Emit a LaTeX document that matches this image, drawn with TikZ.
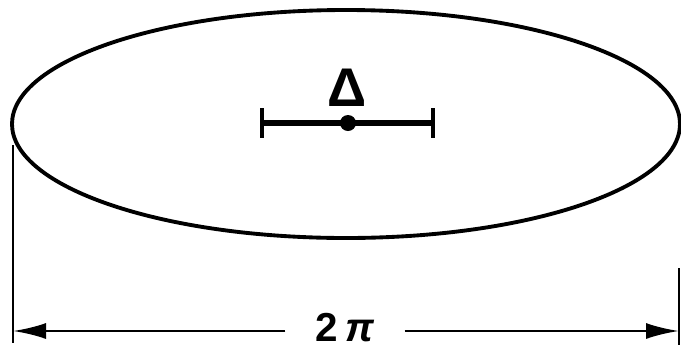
\documentclass[tikz,border=0pt]{standalone}
\usepackage{fontspec}
\setmainfont{Liberation Sans}
\usetikzlibrary{arrows.meta,shapes.geometric}

\begin{document}
\begin{tikzpicture}[
  font=\bfseries,
  orbit/.style={draw,ellipse,line width=2.2pt,inner sep=0pt},
  bar/.style={line width=3.2pt},
  tick/.style={line width=2pt},
  ext/.style={line width=1.5pt},
  dim/.style={-{Latex[length=6.6mm,width=3.2mm]},line width=1.5pt}]
\useasboundingbox (0,0) rectangle (13.62,7);
\node[orbit,minimum width=13.36cm,minimum height=4.56cm] (E) at (6.92,4.52) {};
% error bar with centre point
\coordinate (bl) at (5.24,4.54);
\coordinate (br) at (8.66,4.54);
\node[circle,fill,inner sep=0pt,minimum size=0.32cm] (c) at (6.96,4.54) {};
\draw[bar] (bl) -- (br);
\draw[tick] ([yshift=0.3cm]bl) -- ([yshift=-0.3cm]bl);
\draw[tick] ([yshift=0.3cm]br) -- ([yshift=-0.3cm]br);
\node[font=\bfseries\fontsize{31}{31}\selectfont] (delta) at (6.94,5.24) {Δ};
% extension lines
\coordinate (lt) at (0.26,4.1);
\coordinate (lb) at (0.26,0.14);
\coordinate (rt) at (13.58,1.64);
\coordinate (rb) at (13.58,0.1);
\draw[ext] (lt) -- (lb);
\draw[ext] (rt) -- (rb);
% dimension 2 pi
\node[font=\bfseries\fontsize{23}{23}\selectfont,inner xsep=0.6cm,inner ysep=0pt,anchor=base] (len) at (6.9,0.17) {2\,\textit{π}};
\coordinate (dl) at (0.26,0.38);
\coordinate (dr) at (13.58,0.38);
\draw[dim] (len.west |- dl) -- (dl);
\draw[dim] (len.east |- dr) -- (dr);
\end{tikzpicture}
\end{document}
